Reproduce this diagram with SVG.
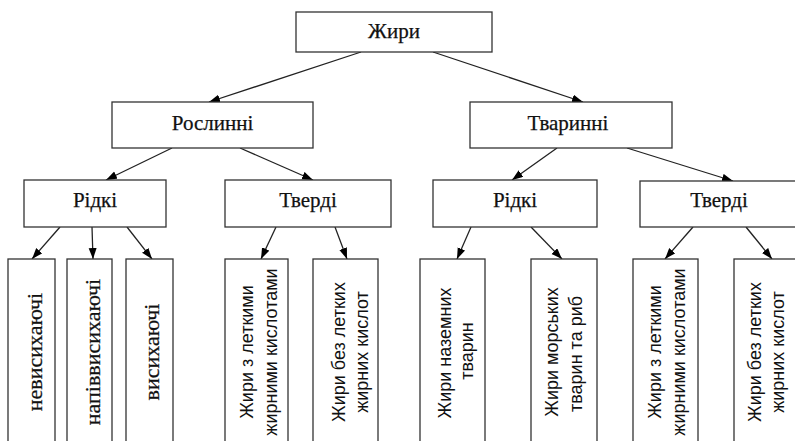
<svg xmlns="http://www.w3.org/2000/svg" width="795" height="441" viewBox="0 0 795 441">
<style>
.box{fill:#fff;stroke:#333;stroke-width:1.3}
.t{font-family:'Liberation Serif','Times New Roman',serif;font-size:21px;fill:#111;stroke:#111;stroke-width:0.25;text-anchor:middle}
.ls{font-family:'Liberation Serif','Times New Roman',serif;font-size:22px;fill:#111;stroke:#111;stroke-width:0.25;text-anchor:middle}
.la{font-family:'Liberation Sans',Arial,sans-serif;font-size:18px;fill:#111;text-anchor:middle}
.c line{stroke:#222;stroke-width:1.3;marker-end:url(#ah)}
</style>
<defs>
<marker id="ah" markerUnits="userSpaceOnUse" markerWidth="12" markerHeight="9" refX="11" refY="4" orient="auto">
<path d="M0,0 L11,4 L0,8 z" fill="#000"/>
</marker>
</defs>
<rect width="795" height="441" fill="#fff"/>
<g class="c" id="connectors">
<line x1="361" y1="52" x2="209" y2="102"/>
<line x1="433" y1="52" x2="583" y2="102"/>
<line x1="172" y1="148" x2="106" y2="180"/>
<line x1="240" y1="148" x2="313" y2="180"/>
<line x1="557" y1="148" x2="512" y2="180"/>
<line x1="627" y1="148" x2="733" y2="181"/>
<line x1="60" y1="227" x2="32" y2="259"/>
<line x1="92" y1="227" x2="93" y2="259"/>
<line x1="127" y1="227" x2="152" y2="259"/>
<line x1="276" y1="227" x2="261" y2="259"/>
<line x1="335" y1="227" x2="347" y2="259"/>
<line x1="471" y1="227" x2="457" y2="259"/>
<line x1="531" y1="227" x2="562" y2="259"/>
<line x1="693" y1="227" x2="665" y2="259"/>
<line x1="746" y1="227" x2="772" y2="259"/>
</g>
<g id="n-zhyry"><rect class="box" x="296" y="12" width="196" height="40"/><text class="t" x="394" y="38">Жири</text></g>
<g id="n-roslynni"><rect class="box" x="112" y="102" width="201" height="46"/><text class="t" x="212.5" y="130">Рослинні</text></g>
<g id="n-tvarynni"><rect class="box" x="470" y="102" width="202" height="46"/><text class="t" x="568" y="130">Тваринні</text></g>
<g id="n-ridki1"><rect class="box" x="24" y="180" width="142" height="47"/><text class="t" x="95" y="207">Рідкі</text></g>
<g id="n-tverdi1"><rect class="box" x="225" y="180" width="166" height="47"/><text class="t" x="308" y="207">Тверді</text></g>
<g id="n-ridki2"><rect class="box" x="433" y="180" width="164" height="47"/><text class="t" x="515" y="207">Рідкі</text></g>
<g id="n-tverdi2"><rect class="box" x="640" y="181" width="160" height="46"/><text class="t" x="719" y="207">Тверді</text></g>
<g id="n-leaf1"><rect class="box" x="8" y="259" width="47" height="190"/><text class="ls" transform="translate(42,352) rotate(-90)">невисихаючі</text></g>
<g id="n-leaf2"><rect class="box" x="67" y="259" width="45" height="190"/><text class="ls" transform="translate(100,352) rotate(-90)">напіввисихаючі</text></g>
<g id="n-leaf3"><rect class="box" x="126" y="259" width="47" height="190"/><text class="ls" transform="translate(159,352) rotate(-90)">висихаючі</text></g>
<g id="n-leaf4"><rect class="box" x="225" y="259" width="63" height="190"/><text class="la" transform="translate(253,352) rotate(-90)">Жири з леткими</text><text class="la" transform="translate(277,352) rotate(-90)">жирними кислотами</text></g>
<g id="n-leaf5"><rect class="box" x="313" y="259" width="65" height="190"/><text class="la" transform="translate(345,352) rotate(-90)">Жири без летких</text><text class="la" transform="translate(368,352) rotate(-90)">жирних кислот</text></g>
<g id="n-leaf6"><rect class="box" x="420" y="259" width="65" height="190"/><text class="la" transform="translate(451,353) rotate(-90)">Жири наземних</text><text class="la" transform="translate(473,351) rotate(-90)">тварин</text></g>
<g id="n-leaf7"><rect class="box" x="531" y="259" width="66" height="190"/><text class="la" transform="translate(558,352) rotate(-90)">Жири морських</text><text class="la" transform="translate(582,354) rotate(-90)">тварин та риб</text></g>
<g id="n-leaf8"><rect class="box" x="633" y="259" width="65" height="190"/><text class="la" transform="translate(661,352) rotate(-90)">Жири з леткими</text><text class="la" transform="translate(685,352) rotate(-90)">жирними кислотами</text></g>
<g id="n-leaf9"><rect class="box" x="734" y="259" width="70" height="190"/><text class="la" transform="translate(761,352) rotate(-90)">Жири без летких</text><text class="la" transform="translate(784,352) rotate(-90)">жирних кислот</text></g>
</svg>
